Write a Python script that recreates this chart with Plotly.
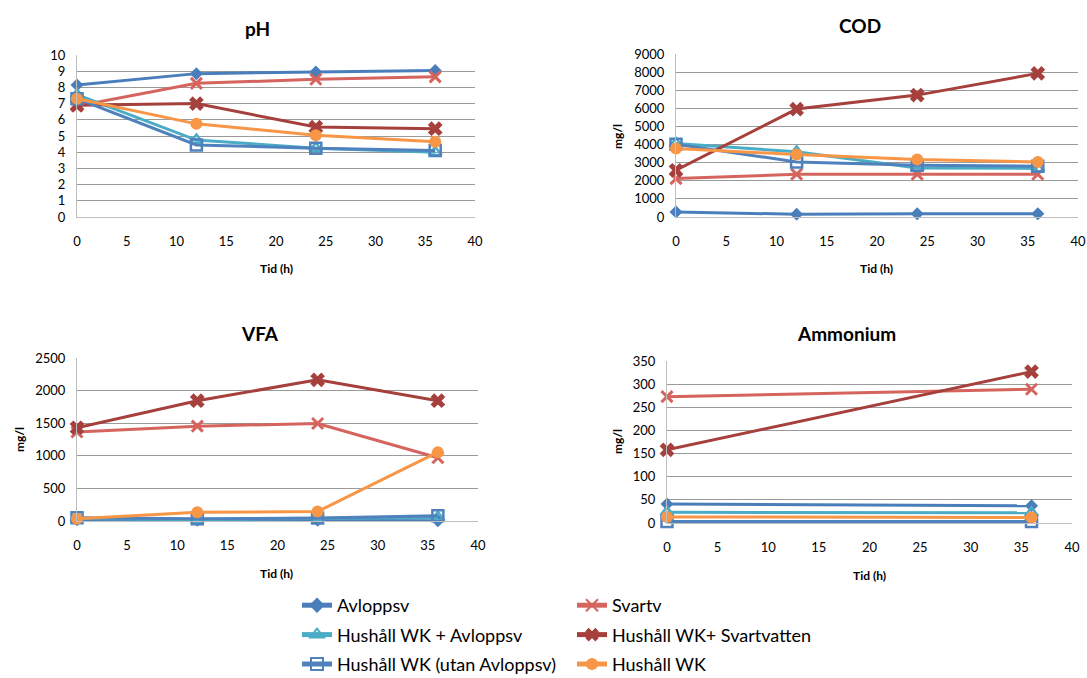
import plotly.graph_objects as go

W, H = 1087, 678

# ---------------- data ----------------
tid = [0, 12, 24, 36]
tid_amm = [0, 36]

series_names = [
    "Avloppsv",
    "Svartv",
    "Hushåll WK + Avloppsv",
    "Hushåll WK+ Svartvatten",
    "Hushåll WK (utan Avloppsv)",
    "Hushåll WK",
]

ph_avlopp = [8.15, 8.85, 8.95, 9.05]
ph_svart = [6.85, 8.25, 8.5, 8.65]
ph_wk_avlopp = [7.55, 4.75, 4.25, 4.0]
ph_wk_svart = [6.9, 7.0, 5.55, 5.45]
ph_wk_utan = [7.3, 4.45, 4.25, 4.1]
ph_wk = [7.3, 5.75, 5.05, 4.65]

cod_avlopp = [280, 150, 180, 180]
cod_svart = [2120, 2360, 2360, 2360]
cod_wk_avlopp = [4060, 3600, 2710, 2680]
cod_wk_svart = [2580, 5960, 6730, 7930]
cod_wk_utan = [4020, 3040, 2860, 2800]
cod_wk = [3780, 3450, 3170, 3040]

vfa_avlopp = [20, 10, 10, 5]
vfa_svart = [1365, 1455, 1495, 970]
vfa_wk_avlopp = [40, 20, 40, 55]
vfa_wk_svart = [1430, 1845, 2165, 1845]
vfa_wk_utan = [50, 35, 45, 80]
vfa_wk = [35, 135, 145, 1055]

amm_avlopp = [41, 37]
amm_svart = [273, 289]
amm_wk_avlopp = [23, 22]
amm_wk_svart = [158, 327]
amm_wk_utan = [3, 3]
amm_wk = [13, 12]

ph_ticks = list(range(0, 11, 1))
cod_ticks = list(range(0, 9001, 1000))
vfa_ticks = list(range(0, 2501, 500))
amm_ticks = list(range(0, 351, 50))
x_ticks = list(range(0, 41, 5))

# ---------------- styles ----------------
colors = ["#4A7EBB", "#D4645D", "#4BACC6", "#A5403D", "#4F81BD", "#F79646"]
markers = [
    dict(symbol="diamond", size=10),
    dict(symbol="x-thin-open", size=11, line=dict(width=3)),
    dict(symbol="triangle-up-open", size=11, line=dict(width=2.5)),
    dict(symbol="x", size=13, line=dict(width=0)),
    dict(symbol="square-open", size=11, line=dict(width=2.5)),
    dict(symbol="circle", size=12),
]
legend_of = ["legend", "legend2", "legend", "legend2", "legend", "legend2"]

FONT = "Lato, Open Sans, sans-serif"

fig = go.Figure()

panels = [
    ("x", "y", tid, [ph_avlopp, ph_svart, ph_wk_avlopp, ph_wk_svart, ph_wk_utan, ph_wk]),
    ("x2", "y2", tid, [cod_avlopp, cod_svart, cod_wk_avlopp, cod_wk_svart, cod_wk_utan, cod_wk]),
    ("x3", "y3", tid, [vfa_avlopp, vfa_svart, vfa_wk_avlopp, vfa_wk_svart, vfa_wk_utan, vfa_wk]),
    ("x4", "y4", tid_amm, [amm_avlopp, amm_svart, amm_wk_avlopp, amm_wk_svart, amm_wk_utan, amm_wk]),
]

for pi, (xa, ya, xs, data) in enumerate(panels):
    for si, vals in enumerate(data):
        m = dict(markers[si])
        m["color"] = colors[si]
        if "line" in m:
            m["line"] = dict(m["line"], color=colors[si])
        fig.add_trace(go.Scatter(
            x=xs, y=vals, mode="lines+markers", name=series_names[si],
            xaxis=xa, yaxis=ya,
            line=dict(color=colors[si], width=3),
            marker=m,
            cliponaxis=False,
            showlegend=(pi == 0),
            legend=legend_of[si],
            legendgroup=f"g{si}",
            legendrank=si,
        ))

def px_x(p):
    return p / W

def px_y(p):
    return 1 - p / H

axis_common = dict(
    showline=True, linecolor="#BFBFBF", linewidth=1,
    ticks="", tickfont=dict(family=FONT, size=13, color="#000000"),
    zeroline=False, fixedrange=True,
)

def xaxis(dom, anchor):
    return dict(axis_common, domain=dom, anchor=anchor, range=[0, 40],
                tickvals=x_ticks, showgrid=False, ticklabelstandoff=12)

def yaxis(dom, anchor, rng, ticks):
    return dict(axis_common, domain=dom, anchor=anchor, range=rng,
                tickvals=ticks, showgrid=True, gridcolor="#9A9A9A", gridwidth=1,
                ticklabelstandoff=8)

leg_common = dict(
    orientation="v", yanchor="top", xanchor="left",
    font=dict(family=FONT, size=18, color="#000000"),
    bgcolor="rgba(0,0,0,0)", traceorder="grouped", tracegroupgap=3,
    itemsizing="constant",
)

fig.update_layout(
    width=W, height=H,
    margin=dict(l=0, r=0, t=0, b=0, autoexpand=False),
    paper_bgcolor="white", plot_bgcolor="white",
    font=dict(family=FONT, size=13, color="#000000"),
    xaxis=xaxis([px_x(77), px_x(475)], "y"),
    yaxis=yaxis([px_y(217), px_y(55)], "x", [0, 10], ph_ticks),
    xaxis2=xaxis([px_x(676), px_x(1078)], "y2"),
    yaxis2=yaxis([px_y(217), px_y(54)], "x2", [0, 9000], cod_ticks),
    xaxis3=xaxis([px_x(77), px_x(478)], "y3"),
    yaxis3=yaxis([px_y(521), px_y(358)], "x3", [0, 2500], vfa_ticks),
    xaxis4=xaxis([px_x(667), px_x(1072)], "y4"),
    yaxis4=yaxis([px_y(523), px_y(361)], "x4", [0, 350], amm_ticks),
    legend=dict(leg_common, x=px_x(297), y=px_y(587)),
    legend2=dict(leg_common, x=px_x(572), y=px_y(587)),
)

annotations = []
titles = [("pH", 257, 28), ("COD", 860, 25), ("VFA", 260, 333), ("Ammonium", 846, 333)]
for t, x, y in titles:
    annotations.append(dict(text=f"<b>{t}</b>", x=px_x(x), y=px_y(y), xref="paper", yref="paper",
                            showarrow=False, xanchor="center", yanchor="middle",
                            font=dict(family=FONT, size=19, color="#000000")))
tid_labels = [(276, 268), (876, 268), (276, 573), (870, 575)]
for x, y in tid_labels:
    annotations.append(dict(text="<b>Tid (h)</b>", x=px_x(x), y=px_y(y), xref="paper", yref="paper",
                            showarrow=False, xanchor="center", yanchor="middle",
                            font=dict(family=FONT, size=12, color="#000000")))
mg_labels = [(617, 137), (19, 440), (617, 442)]
for x, y in mg_labels:
    annotations.append(dict(text="<b>mg/l</b>", x=px_x(x), y=px_y(y), xref="paper", yref="paper",
                            showarrow=False, xanchor="center", yanchor="middle", textangle=-90,
                            font=dict(family=FONT, size=12, color="#000000")))
fig.update_layout(annotations=annotations)

fig.write_html("out.html")
